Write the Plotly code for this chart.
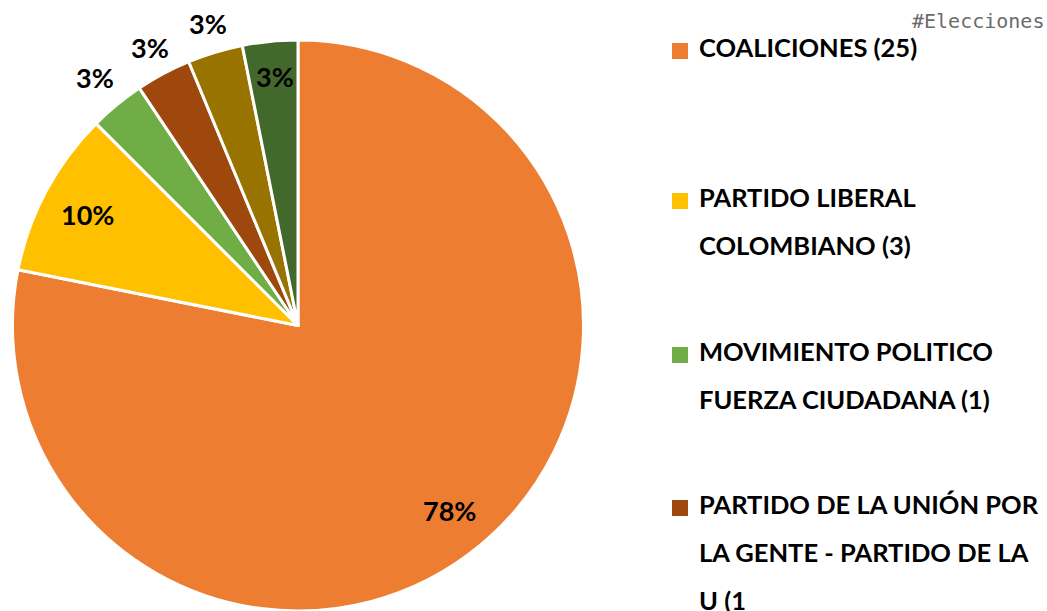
import math

import plotly.graph_objects as go

# data
parties = [
    'COALICIONES',
    'PARTIDO LIBERAL COLOMBIANO',
    'MOVIMIENTO POLITICO FUERZA CIUDADANA',
    'PARTIDO DE LA UNIÓN POR LA GENTE - PARTIDO DE LA U',
    'OTRO PARTIDO A',
    'OTRO PARTIDO B',
]
seats = [25, 3, 1, 1, 1, 1]
pct_labels = ['78%', '10%', '3%', '3%', '3%', '3%']
colors = ['#ED7D31', '#FFC000', '#70AD47', '#9E480E', '#997300', '#43682B']
# how far out from the centre each percentage sits (fraction of radius)
label_radius = [0.83, 0.85, 1.14, 1.12, 1.12, 0.89]

# legend as it appears (wrapped, last entry clipped)
legend_lines = [
    ['COALICIONES (25)'],
    ['PARTIDO LIBERAL', 'COLOMBIANO (3)'],
    ['MOVIMIENTO POLITICO', 'FUERZA CIUDADANA (1)'],
    ['PARTIDO DE LA UNIÓN POR', 'LA GENTE - PARTIDO DE LA', 'U (1'],
]

W, H = 1047, 611
FONT = 'Lato'


def px(x):
    return x / W


def py(y):
    return 1 - y / H


# pie placement (window pixels)
cx, cy, r = 298, 327, 284
dom_top = 40
half = (611 - dom_top) / 2

fig = go.Figure()

fig.add_trace(
    go.Pie(
        labels=parties,
        values=seats,
        textinfo='none',
        sort=False,
        direction='clockwise',
        rotation=0,
        marker=dict(colors=colors, line=dict(color='white', width=3)),
        domain=dict(x=[px(cx - half), px(cx + half)],
                    y=[0, py(dom_top)]),
        showlegend=False,
        hoverinfo='label+value',
    )
)

# percentage labels at each slice's mid angle
total = sum(seats)
cum = 0
for val, txt, rf in zip(seats, pct_labels, label_radius):
    mid = (cum + val / 2) / total * 2 * math.pi
    cum += val
    lx = cx + rf * r * math.sin(mid)
    ly = cy - rf * r * math.cos(mid)
    fig.add_annotation(
        x=px(lx + 2), y=py(ly + 1), xref='paper', yref='paper',
        xanchor='center', yanchor='middle', showarrow=False,
        text='<b>%s</b>' % txt,
        font=dict(family=FONT, size=27, color='black'),
    )

# hand-made legend matching the reference layout
entry_tops = [48, 198, 352, 505]
line_gap = 48
for i, (lines, y0) in enumerate(zip(legend_lines, entry_tops)):
    fig.add_shape(
        type='rect', xref='paper', yref='paper',
        x0=px(672), x1=px(688), y0=py(y0 + 11), y1=py(y0 - 5),
        fillcolor=colors[i], line=dict(width=0),
    )
    for j, line in enumerate(lines):
        fig.add_annotation(
            x=px(697), y=py(y0 - 1 + j * line_gap),
            xref='paper', yref='paper',
            xanchor='left', yanchor='middle',
            text='<b>%s</b>' % line, showarrow=False,
            font=dict(family=FONT, size=25.5, color='black'),
        )

fig.add_annotation(
    x=px(910), y=py(21), xref='paper', yref='paper',
    xanchor='left', yanchor='middle',
    text='#Elecciones', showarrow=False,
    font=dict(family='DejaVu Sans Mono', size=20, color='#6b6b6b'),
)

fig.update_layout(
    width=W, height=H,
    margin=dict(l=0, r=0, t=0, b=0),
    paper_bgcolor='white',
    plot_bgcolor='white',
)

# drop the browser's default body margin so the figure fills the window
fig.write_html(
    'out.html',
    config={'displayModeBar': False},
    post_script="document.body.style.margin='0';"
                "document.body.style.overflow='hidden';",
)
